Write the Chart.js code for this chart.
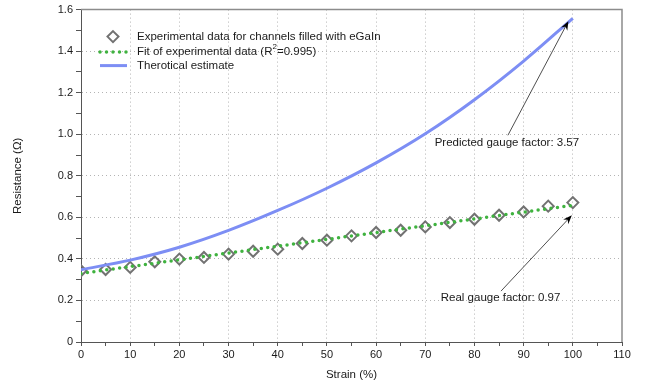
<!DOCTYPE html>
<html>
<head>
<meta charset="utf-8">
<script src="https://cdn.jsdelivr.net/npm/chart.js@4"></script>
<style>
  html, body { margin: 0; padding: 0; background: #fff; }
  #wrap { width: 646px; height: 388px; }
</style>
</head>
<body>
<div id="wrap"><canvas id="c" width="646" height="388"></canvas></div>
<script>
// ---- data ----
const strain = [0, 5, 10, 15, 20, 25, 30, 35, 40, 45, 50, 55, 60, 65, 70, 75, 80, 85, 90, 95, 100];
const measured = [0.343, 0.349, 0.359, 0.386, 0.399, 0.407, 0.423, 0.437, 0.447, 0.474, 0.490,
                  0.511, 0.527, 0.538, 0.554, 0.575, 0.591, 0.610, 0.626, 0.654, 0.671];

const fitStrain = [0, 100];
const fitValues = [0.330, 0.658];

const theoryStrain = [0, 10, 20, 30, 40, 50, 60, 70, 80, 90, 100];
const theoryValues = [0.348, 0.394, 0.456, 0.537, 0.633, 0.740, 0.862, 1.002, 1.166, 1.352, 1.558];

// annotation arrows: [tailX, tailY, tipX, tipY] and label centre, in data units
const annoText = ["Predicted gauge factor: 3.57", "Real gauge factor: 0.97"];
const annoArrow = [[86.8, 0.995, 99.1, 1.544], [85.4, 0.245, 99.8, 0.610]];
const annoLabelPos = [[86.6, 0.957], [85.3, 0.211]];

const FONT = "'Liberation Sans', Arial, Helvetica, sans-serif";
const GREEN = "#3fb23f";
const BLUE = "#7d8ef4";
const GREY = "#727272";
const TXT = "#1a1a1a";

const pts = (xs, ys) => xs.map((x, i) => ({ x: x, y: ys[i] }));

// frame, legend and arrows
const decor = {
    id: "decor",
    beforeDatasetsDraw(chart) {
        const { ctx, chartArea: a } = chart;
        ctx.save();
        ctx.strokeStyle = "#8c8c8c";
        ctx.lineWidth = 1.5;
        ctx.beginPath();
        ctx.moveTo(a.left, a.top);
        ctx.lineTo(a.right, a.top);
        ctx.lineTo(a.right, a.bottom);
        ctx.stroke();
        ctx.restore();
    },
    afterDatasetsDraw(chart) {
        const { ctx, chartArea: a, scales } = chart;
        const X = v => scales.x.getPixelForValue(v);
        const Y = v => scales.y.getPixelForValue(v);
        ctx.save();

        // arrows
        ctx.strokeStyle = "#222";
        ctx.fillStyle = "#000";
        ctx.lineWidth = 0.8;
        annoArrow.forEach(r => {
            const x1 = X(r[0]), y1 = Y(r[1]), x2 = X(r[2]), y2 = Y(r[3]);
            const ang = Math.atan2(y2 - y1, x2 - x1);
            ctx.beginPath();
            ctx.moveTo(x1, y1);
            ctx.lineTo(x2 - 5 * Math.cos(ang), y2 - 5 * Math.sin(ang));
            ctx.stroke();
            ctx.beginPath();
            ctx.moveTo(x2, y2);
            ctx.lineTo(x2 - 9 * Math.cos(ang) + 3.5 * Math.sin(ang), y2 - 9 * Math.sin(ang) - 3.5 * Math.cos(ang));
            ctx.lineTo(x2 - 6 * Math.cos(ang), y2 - 6 * Math.sin(ang));
            ctx.lineTo(x2 - 9 * Math.cos(ang) - 3.5 * Math.sin(ang), y2 - 9 * Math.sin(ang) + 3.5 * Math.cos(ang));
            ctx.closePath();
            ctx.fill();
        });

        ctx.font = "11.5px " + FONT;
        ctx.fillStyle = TXT;
        ctx.textAlign = "center";
        ctx.textBaseline = "middle";
        annoText.forEach((t, i) => {
            ctx.fillText(t, X(annoLabelPos[i][0]), Y(annoLabelPos[i][1]));
        });

        // legend
        const lx = a.left + 19, tx = a.left + 56;
        const rows = [a.top + 27, a.top + 42.5, a.top + 56];
        ctx.strokeStyle = GREY;
        ctx.lineWidth = 2;
        ctx.beginPath();
        const cx = lx + 13, cy = rows[0];
        ctx.moveTo(cx, cy - 5.5); ctx.lineTo(cx + 5.5, cy);
        ctx.lineTo(cx, cy + 5.5); ctx.lineTo(cx - 5.5, cy);
        ctx.closePath();
        ctx.stroke();

        ctx.strokeStyle = GREEN;
        ctx.lineWidth = 3.5;
        ctx.lineCap = "round";
        ctx.setLineDash([0, 6.5]);
        ctx.beginPath();
        ctx.moveTo(lx, rows[1]); ctx.lineTo(lx + 27, rows[1]);
        ctx.stroke();
        ctx.setLineDash([]);
        ctx.lineCap = "butt";
        ctx.strokeStyle = BLUE;
        ctx.lineWidth = 3;
        ctx.beginPath();
        ctx.moveTo(lx, rows[2]); ctx.lineTo(lx + 27, rows[2]);
        ctx.stroke();

        ctx.fillStyle = TXT;
        ctx.textAlign = "left";
        ctx.fillText("Experimental data for channels filled with eGaIn", tx, rows[0]);
        const p = "Fit of experimental data (R";
        ctx.fillText(p, tx, rows[1]);
        let w = ctx.measureText(p).width;
        ctx.font = "8px " + FONT;
        ctx.fillText("2", tx + w, rows[1] - 5);
        const w2 = ctx.measureText("2").width;
        ctx.font = "11.5px " + FONT;
        ctx.fillText("=0.995)", tx + w + w2, rows[1]);
        ctx.fillText("Therotical estimate", tx, rows[2]);
        ctx.restore();
    }
};

new Chart(document.getElementById("c"), {
    type: "scatter",
    data: {
        datasets: [
            {
                label: "Experimental data for channels filled with eGaIn",
                data: pts(strain, measured),
                pointStyle: "rectRot",
                pointRadius: 5.5,
                pointBorderWidth: 2,
                pointBorderColor: GREY,
                pointBackgroundColor: "rgba(255,255,255,0)",
                showLine: false,
                order: 3
            },
            {
                label: "Fit of experimental data",
                data: pts(fitStrain, fitValues),
                showLine: true,
                borderColor: GREEN,
                borderWidth: 3.5,
                borderCapStyle: "round",
                borderDash: [0, 6.5],
                pointRadius: 0,
                order: 2
            },
            {
                label: "Therotical estimate",
                data: pts(theoryStrain, theoryValues),
                showLine: true,
                borderColor: BLUE,
                borderWidth: 3,
                cubicInterpolationMode: "monotone",
                pointRadius: 0,
                order: 1
            }
        ]
    },
    options: {
        responsive: false,
        animation: false,
        layout: { padding: { top: 9, right: 24, left: 0, bottom: 0 } },
        plugins: { legend: { display: false }, tooltip: { enabled: false } },
        scales: {
            x: {
                type: "linear",
                min: 0, max: 110,
                afterFit: s => { s.height = 46; },
                ticks: {
                    stepSize: 5,
                    autoSkip: false,
                    maxRotation: 0,
                    padding: 2,
                    color: TXT,
                    font: { family: FONT, size: 11 },
                    callback: v => (v % 10 === 0 ? String(v) : "")
                },
                grid: {
                    color: c => (c.tick && c.tick.value % 10 === 0 && c.tick.value > 0 && c.tick.value < 110 ? "#b4b4b4" : "rgba(0,0,0,0)"),
                    tickColor: "#555",
                    tickLength: 4,
                    lineWidth: 1
                },
                border: { display: true, color: "#555", width: 1, dash: [1, 3] },
                title: {
                    display: true,
                    text: "Strain (%)",
                    color: TXT,
                    font: { family: FONT, size: 11.5 },
                    padding: { top: 0, bottom: 6 }
                }
            },
            y: {
                type: "linear",
                min: 0, max: 1.6,
                afterFit: s => { s.width = 81; },
                ticks: {
                    stepSize: 0.1,
                    autoSkip: false,
                    padding: 3,
                    color: TXT,
                    font: { family: FONT, size: 11 },
                    callback: v => {
                        const k = Math.round(v * 10);
                        if (k % 2 !== 0) return "";
                        return k === 0 ? "0" : (k / 10).toFixed(1);
                    }
                },
                grid: {
                    color: c => {
                        if (!c.tick) return "rgba(0,0,0,0)";
                        const k = Math.round(c.tick.value * 10);
                        return k % 2 === 0 && k > 0 && k < 16 ? "#b4b4b4" : "rgba(0,0,0,0)";
                    },
                    tickColor: "#555",
                    tickLength: 5,
                    lineWidth: 1
                },
                border: { display: true, color: "#555", width: 1, dash: [1, 3] },
                title: {
                    display: true,
                    text: "Resistance (Ω)",
                    color: TXT,
                    font: { family: FONT, size: 11.5 },
                    padding: { top: 11, bottom: 0 }
                }
            }
        }
    },
    plugins: [decor]
});
</script>
</body>
</html>
